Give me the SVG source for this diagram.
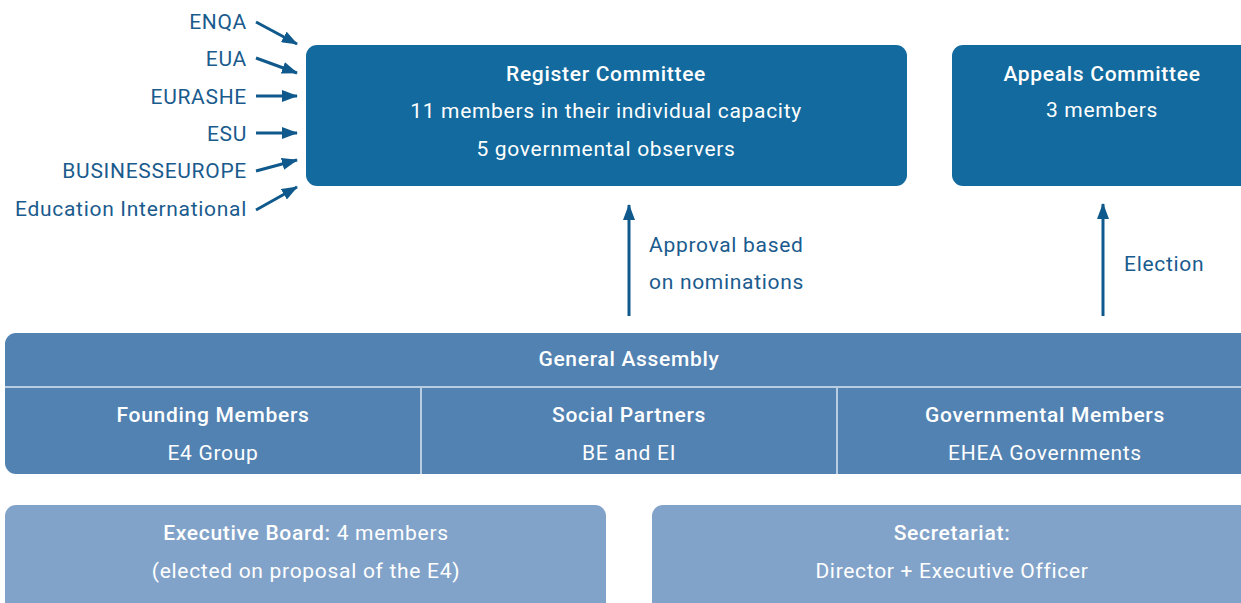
<svg xmlns="http://www.w3.org/2000/svg" width="1241" height="603" viewBox="0 0 1241 603">
  <defs>
    <marker id="arrow" viewBox="0 0 16 12" refX="15" refY="6" markerWidth="16" markerHeight="12" orient="auto" markerUnits="userSpaceOnUse">
      <path d="M0,0 L16,6 L0,12 z" fill="#10598c"/>
    </marker>
    <style>
      text { font-family: Roboto, "Liberation Sans", sans-serif; font-size: 21px; letter-spacing: 0.7px; }
      .lbl { fill: #1a5b8e; }
      .rt { text-anchor: end; }
      .w { fill: #ffffff; text-anchor: middle; }
      .b { font-weight: 500; }
      .dark { fill: #126a9e; }
      .mid { fill: #5282b2; }
      .light { fill: #82a3c9; }
      .sep { stroke: #b9cde2; stroke-width: 2; }
      .conn line { stroke: #10598c; stroke-width: 3; fill: none; }
    </style>
  </defs>
  <rect width="1241" height="603" fill="#ffffff"/>

  <g id="source-labels" class="lbl">
    <text class="rt" x="247" y="29">ENQA</text>
    <text class="rt" x="247" y="66">EUA</text>
    <text class="rt" x="247" y="104">EURASHE</text>
    <text class="rt" x="247" y="141">ESU</text>
    <text class="rt" x="247" y="178">BUSINESSEUROPE</text>
    <text class="rt" x="247" y="216">Education International</text>
  </g>

  <g id="register-committee">
    <rect class="dark" x="306" y="45" width="601" height="141" rx="11"/>
    <text class="w b" x="606" y="81">Register Committee</text>
    <text class="w" x="606" y="118">11 members in their individual capacity</text>
    <text class="w" x="606" y="156">5 governmental observers</text>
  </g>

  <g id="appeals-committee">
    <rect class="dark" x="952" y="45" width="310" height="141" rx="11"/>
    <text class="w b" x="1102" y="81">Appeals Committee</text>
    <text class="w" x="1102" y="117">3 members</text>
  </g>

  <g id="general-assembly">
    <rect class="mid" x="5" y="333" width="1257" height="141" rx="11"/>
    <line class="sep" x1="5" y1="387" x2="1241" y2="387"/>
    <line class="sep" x1="421" y1="387" x2="421" y2="474"/>
    <line class="sep" x1="837" y1="387" x2="837" y2="474"/>
    <text class="w b" x="629" y="366">General Assembly</text>
    <text class="w b" x="213" y="422">Founding Members</text>
    <text class="w" x="213" y="460">E4 Group</text>
    <text class="w b" x="629" y="422">Social Partners</text>
    <text class="w" x="629" y="460">BE and EI</text>
    <text class="w b" x="1045" y="422">Governmental Members</text>
    <text class="w" x="1045" y="460">EHEA Governments</text>
  </g>

  <g id="executive-board">
    <rect class="light" x="5" y="505" width="601" height="120" rx="11"/>
    <text class="w" x="306" y="540"><tspan class="b">Executive Board:</tspan> 4 members</text>
    <text class="w" x="306" y="578">(elected on proposal of the E4)</text>
  </g>

  <g id="secretariat">
    <rect class="light" x="652" y="505" width="610" height="120" rx="11"/>
    <text class="w b" x="952" y="540">Secretariat:</text>
    <text class="w" x="952" y="578">Director + Executive Officer</text>
  </g>

  <g id="connectors" class="conn">
    <line x1="256" y1="22" x2="297" y2="44" marker-end="url(#arrow)"/>
    <line x1="256" y1="58" x2="297" y2="73" marker-end="url(#arrow)"/>
    <line x1="256" y1="96" x2="297" y2="96" marker-end="url(#arrow)"/>
    <line x1="256" y1="133" x2="297" y2="133" marker-end="url(#arrow)"/>
    <line x1="256" y1="171" x2="297" y2="160" marker-end="url(#arrow)"/>
    <line x1="256" y1="210" x2="297" y2="187" marker-end="url(#arrow)"/>
    <line x1="629" y1="316" x2="629" y2="205" marker-end="url(#arrow)"/>
    <line x1="1103" y1="316" x2="1103" y2="204" marker-end="url(#arrow)"/>
  </g>
  <g id="connector-labels" class="lbl">
    <text x="649" y="252">Approval based</text>
    <text x="649" y="289">on nominations</text>
    <text x="1124" y="271">Election</text>
  </g>
</svg>
